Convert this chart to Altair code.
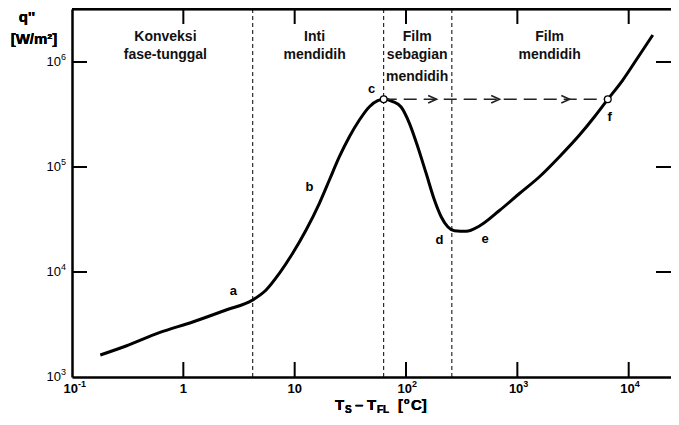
import altair as alt
import pandas as pd

# ---- data (log-log boiling curve) ----
dT = [0.1795, 0.3056, 0.6087, 1.212, 2.419, 4.195, 5.534, 7.287, 9.594, 12.66,
      16.67, 20.5, 25.21, 31.0, 38.13, 46.91, 55.69, 63.04, 75.94, 90.36, 107.3,
      127.4, 151.6, 180.0, 206.8, 236.9, 272.2, 346.7, 456.4, 690.6, 1044, 1580,
      2389, 3614, 4929, 6490, 8851, 11680, 16460]
q = [1620, 1974, 2642, 3341, 4346, 5412, 6740, 9718, 15070, 25120,
     45110, 75190, 125350, 194400, 280400, 375300, 428000, 441500, 420500, 372800,
     260800, 156100, 87100, 48500, 33620, 27010, 24740, 24420, 27430, 38520, 55930,
     80800, 125350, 201700, 301300, 441500, 674000, 1045000, 1808000]

boundaries = [4.2, 63, 258]

jump_x = [63.04, 6490]          # c -> f transition (open circles)
jump_q = [441500, 441500]
arrow_x = [188, 692, 2950]

point_letters = ["a", "b", "c", "d", "e", "f"]
letter_x = [2.81, 13.6, 49, 200, 513, 6760]
letter_q = [6610, 64600, 550000, 20000, 20500, 302000]

region_lines = ["Konveksi", "fase-tunggal", "Inti", "mendidih", "Film", "sebagian",
                "mendidih", "Film", "mendidih"]
region_x = [0.69, 0.69, 15.1, 15.1, 126, 126, 126, 1950, 1950]
region_q = [1.73e6, 1.17e6, 1.73e6, 1.17e6, 1.73e6, 1.17e6, 7.2e5, 1.73e6, 1.17e6]

x_ticks = [0.1, 1, 10, 100, 1000, 10000]
x_tick_base = ["10", "1", "10", "10", "10", "10"]
x_tick_exp = ["-1", "", "", "2", "3", "4"]
y_ticks = [1e3, 1e4, 1e5, 1e6]
y_tick_base = ["10", "10", "10", "10"]
y_tick_exp = ["3", "4", "5", "6"]

# ---- layout ----
W, H = 599, 368
FONT = "Liberation Sans"
TL = 15  # inward tick length

xs = alt.Scale(type="log", domain=[0.1, 10 ** 4.38], nice=False)
ys = alt.Scale(type="log", domain=[1000, 10 ** 6.505], nice=False)

XAX = alt.Axis(values=x_ticks, labels=False, ticks=False, grid=False,
               domainColor="black", domainWidth=2.5, title=None)
YAX = alt.Axis(values=y_ticks, labels=False, ticks=False, grid=False,
               domainColor="black", domainWidth=2.5, title=None)

curve_df = pd.DataFrame({"dT": dT, "q": q})
bound_df = pd.DataFrame({"dT": boundaries})
jump_df = pd.DataFrame({"dT": jump_x, "q": jump_q})
arrow_df = pd.DataFrame({"dT": arrow_x, "q": [jump_q[0]] * len(arrow_x)})
letter_df = pd.DataFrame({"t": point_letters, "dT": letter_x, "q": letter_q})
region_df = pd.DataFrame({"t": region_lines, "dT": region_x, "q": region_q})
xt_df = pd.DataFrame({"dT": x_ticks[1:]})
yt_df = pd.DataFrame({"q": y_ticks[1:]})
xl_df = pd.DataFrame({"dT": x_ticks, "base": x_tick_base, "exp": x_tick_exp})
yl_df = pd.DataFrame({"q": y_ticks, "base": y_tick_base, "exp": y_tick_exp})
xl_pow = xl_df[xl_df["exp"] != ""]
xl_plain = xl_df[xl_df["exp"] == ""]


def X(field="dT"):
    return alt.X(f"{field}:Q", scale=xs, axis=XAX, title=None)


def Y(field="q"):
    return alt.Y(f"{field}:Q", scale=ys, axis=YAX, title=None)


curve = alt.Chart(curve_df).mark_line(
    color="black", strokeWidth=3, interpolate="monotone"
).encode(x=X(), y=Y())

bounds = alt.Chart(bound_df).mark_rule(
    color="black", strokeWidth=1, strokeDash=[4, 3]
).encode(x=X(), y=alt.value(0), y2=alt.value(H))

top_spine = alt.Chart(bound_df).mark_rule(color="black", strokeWidth=2.5).encode(
    x=alt.value(0), x2=alt.value(W), y=alt.value(0)
)

bt = alt.Chart(xt_df).mark_rule(color="black", strokeWidth=2).encode(
    x=X(), y=alt.value(H), y2=alt.value(H - TL))
tt = alt.Chart(xt_df).mark_rule(color="black", strokeWidth=2).encode(
    x=X(), y=alt.value(0), y2=alt.value(TL))
lt = alt.Chart(yt_df).mark_rule(color="black", strokeWidth=2).encode(
    y=Y(), x=alt.value(0), x2=alt.value(TL))
rt = alt.Chart(yt_df).mark_rule(color="black", strokeWidth=2).encode(
    y=Y(), x=alt.value(W - TL), x2=alt.value(W))

# tick labels with real superscripts
LY = H + 12
xl_base_pow = alt.Chart(xl_pow).mark_text(
    font=FONT, fontSize=13, fontWeight="bold", color="black", align="right",
    baseline="middle", dx=6
).encode(x=X(), y=alt.value(LY), text="base:N")
xl_exp = alt.Chart(xl_pow).mark_text(
    font=FONT, fontSize=9, fontWeight="bold", color="black", align="left",
    baseline="middle", dx=6, dy=-5
).encode(x=X(), y=alt.value(LY), text="exp:N")
xl_base_plain = alt.Chart(xl_plain).mark_text(
    font=FONT, fontSize=13, fontWeight="bold", color="black", align="center",
    baseline="middle"
).encode(x=X(), y=alt.value(LY), text="base:N")
yl_base = alt.Chart(yl_df).mark_text(
    font=FONT, fontSize=13, color="black", align="right", baseline="middle"
).encode(y=Y(), x=alt.value(-11), text="base:N")
yl_exp = alt.Chart(yl_df).mark_text(
    font=FONT, fontSize=9, color="black", align="left", baseline="middle", dy=-5
).encode(y=Y(), x=alt.value(-11), text="exp:N")

jump = alt.Chart(jump_df).mark_line(
    color="#222", strokeWidth=1.6, strokeDash=[13, 7]
).encode(x=X(), y=Y())

arrows = alt.Chart(arrow_df).mark_point(
    shape="M-1,-0.45L0,0L-1,0.45", filled=False, color="#222", strokeWidth=1.6,
    size=280, opacity=1
).encode(x=X(), y=Y())

circles = alt.Chart(jump_df).mark_point(
    shape="circle", filled=True, fill="white", stroke="black", strokeWidth=1.3,
    size=45, opacity=1
).encode(x=X(), y=Y())

letters = alt.Chart(letter_df).mark_text(
    font=FONT, fontSize=13, fontWeight="bold", color="black"
).encode(x=X(), y=Y(), text="t:N")

regions = alt.Chart(region_df).mark_text(
    font=FONT, fontSize=14, fontWeight="bold", color="#111"
).encode(x=X(), y=Y(), text="t:N")


# axis titles built from pieces (subscripts / superscripts)
def piece(txt, px, py, size, align="left"):
    return alt.Chart(bound_df).mark_text(
        text=txt, font=FONT, fontSize=size, fontWeight="bold", color="black",
        align=align, baseline="alphabetic"
    ).encode(x=alt.value(px), y=alt.value(py))


xtitle = [
    piece("T", 263, 401, 15),
    piece("S", 273, 403.5, 10),
    piece("–", 283, 401, 15),
    piece("T", 295, 401, 15),
    piece("FL", 305, 403.5, 10),
    piece("[", 326, 401, 15),
    piece("o", 332, 394.5, 9),
    piece("C]", 339, 401, 15),
]
ytitle = [
    piece("q''", -45, 13, 15, "center"),
    piece("[W/m²]", -38, 35, 15, "center"),
]

chart = alt.layer(
    curve, bounds, top_spine, bt, tt, lt, rt, jump, arrows, circles, letters, regions,
    xl_base_pow, xl_exp, xl_base_plain, yl_base, yl_exp,
    *xtitle, *ytitle
).properties(
    width=W, height=H,
    autosize=alt.AutoSizeParams(type="none"),
    padding={"left": 64, "top": 1, "right": 0, "bottom": 38},
).configure_view(stroke=None)

chart.save("out.html", embed_options={"renderer": "svg", "actions": False})
